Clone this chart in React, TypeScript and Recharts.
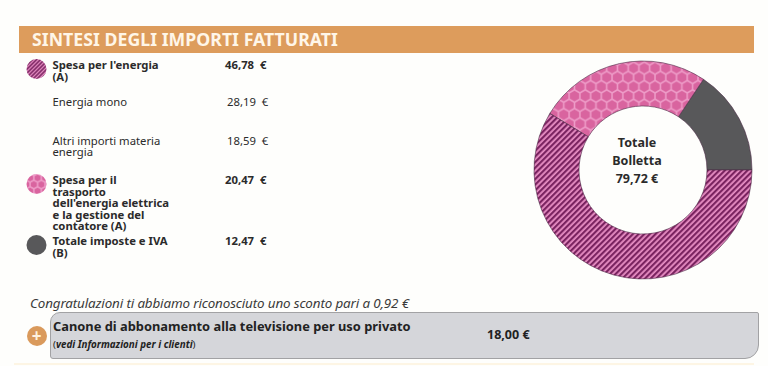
import React from "react";
import { PieChart, Pie, Cell } from "recharts";

const sliceNames = ["Totale imposte e IVA (B)", "Spesa per il trasporto", "Spesa per l'energia (A)"];
const sliceValues = [12.47, 20.47, 46.78];
const sliceFills = ["#58585a", "url(#hex)", "url(#stripes)"];
const chartData = sliceNames.map((name, i) => ({ name, value: sliceValues[i] }));

const FONT = "'Noto Sans', sans-serif";

const rows = [
  { lines: ["Spesa per l'energia", "(A)"], amount: "46,78  €", y: 59, ay: 59, bold: true, marker: "url(#stripesSmall)", my: 69, amountX: 225 },
  { lines: ["Energia mono"], amount: "28,19  €", y: 96, ay: 96, bold: false, amountX: 227 },
  { lines: ["Altri importi materia", "energia"], amount: "18,59  €", y: 135, ay: 135, bold: false, amountX: 227 },
  { lines: ["Spesa per il", "trasporto", "dell'energia elettrica", "e la gestione del", "contatore (A)"], amount: "20,47  €", y: 174, ay: 174, bold: true, marker: "url(#hexSmall)", my: 184, amountX: 225 },
  { lines: ["Totale imposte e IVA", "(B)"], amount: "12,47  €", y: 235, ay: 235, bold: true, marker: "#58585a", my: 245, amountX: 225 },
];

const abs = (left: number, top: number, extra: React.CSSProperties = {}): React.CSSProperties => ({
  position: "absolute", left, top, whiteSpace: "pre", fontFamily: FONT, color: "#2b2b2b", ...extra,
});

function hexPoints(cx: number, cy: number, r: number) {
  const h = r * 0.866;
  return [[cx, cy - r], [cx + h, cy - r / 2], [cx + h, cy + r / 2], [cx, cy + r], [cx - h, cy + r / 2], [cx - h, cy - r / 2]]
    .map((p) => p.join(",")).join(" ");
}

function Patterns({ suffix = "", s = 1 }: { suffix?: string; s?: number }) {
  const r = 6.2 * s;
  const w = r * 1.732;
  const h = r * 3;
  const inner = r - 0.9;
  return (
    <defs>
      <pattern id={"stripes" + suffix} width={4 * s} height={4 * s} patternUnits="userSpaceOnUse" patternTransform="rotate(-45)">
        <rect width={4 * s} height={4 * s} fill="#e88fc4" />
        <rect width={4 * s} height={2.2 * s} fill="#7a2360" />
      </pattern>
      <pattern id={"hex" + suffix} width={w} height={h} patternUnits="userSpaceOnUse">
        <rect width={w} height={h} fill="#ee9cc8" />
        <polygon points={hexPoints(w / 2, r / 2, inner)} fill="#d9649f" />
        <polygon points={hexPoints(0, 2 * r, inner)} fill="#d9649f" />
        <polygon points={hexPoints(w, 2 * r, inner)} fill="#d9649f" />
        <polygon points={hexPoints(w / 2, 3.5 * r, inner)} fill="#d9649f" />
      </pattern>
    </defs>
  );
}

export default function App() {
  return (
    <div style={{ position: "absolute", left: 0, top: 0, width: 768, height: 366, background: "#fefefc", overflow: "hidden" }}>
      <div style={{ position: "absolute", left: 19, top: 26, width: 735, height: 27, background: "#dd9c5c" }} />
      <div style={abs(32, 27, { color: "#fff6e8", fontSize: 17.7, lineHeight: "25px", fontWeight: 700, letterSpacing: 0.02 })}>SINTESI DEGLI IMPORTI FATTURATI</div>

      {rows.map((r) => (
        <React.Fragment key={r.amount}>
          <div style={abs(52.5, r.y, { fontSize: 11.3, lineHeight: r.bold ? "11.5px" : "11px", fontWeight: r.bold ? 700 : 400 })}>
            {r.lines.join("\n")}
          </div>
          <div style={abs(r.amountX, r.ay, { fontSize: 11.3, lineHeight: "12px", fontWeight: r.bold ? 700 : 400 })}>{r.amount}</div>
        </React.Fragment>
      ))}

      <svg width={60} height={300} style={{ position: "absolute", left: 0, top: 0 }}>
        <Patterns suffix="Small" s={0.7} />
        {rows.filter((r) => r.marker).map((r) => (
          <circle key={r.amount} cx={36.5} cy={r.my} r={10} fill={r.marker} />
        ))}
      </svg>

      <div style={{ position: "absolute", left: 0, top: 0 }}>
        <PieChart width={768} height={366} margin={{ top: 0, right: 0, bottom: 0, left: 0 }}>
          <Patterns />
          <Pie
            data={chartData}
            dataKey="value"
            nameKey="name"
            cx={643}
            cy={170}
            innerRadius={64}
            outerRadius={109}
            startAngle={0}
            endAngle={360}
            stroke="#4a2a44"
            strokeWidth={0.6}
            isAnimationActive={false}
          >
            {chartData.map((d, i) => (
              <Cell key={d.name} fill={sliceFills[i]} />
            ))}
          </Pie>
        </PieChart>
      </div>

      <div style={abs(582, 134, { width: 110, textAlign: "center", fontSize: 12.5, lineHeight: "18px", fontWeight: 700 })}>
        {"Totale\nBolletta\n79,72 €"}
      </div>

      <div style={abs(30, 295, { fontSize: 13.4, lineHeight: "16px", fontStyle: "italic", letterSpacing: -0.13, color: "#3a3a3a" })}>
        Congratulazioni ti abbiamo riconosciuto uno sconto pari a 0,92 €
      </div>

      <div style={{ position: "absolute", left: 50, top: 312, width: 709, height: 46.5, boxSizing: "border-box", background: "#d5d6da", border: "1px solid #a2a2a4", borderRadius: "10px 2px 14px 3px" }} />
      <div style={{ position: "absolute", left: 26.5, top: 326, width: 20, height: 20, borderRadius: 10, background: "#da9a5c" }} />
      <div style={abs(26.5, 326, { width: 20, height: 20, textAlign: "center", color: "#fff3e0", fontSize: 17, lineHeight: "20px", fontWeight: 700 })}>+</div>
      <div style={abs(53, 318, { fontSize: 12.85, lineHeight: "16px", fontWeight: 700, color: "#222" })}>Canone di abbonamento alla televisione per uso privato</div>
      <div style={abs(53, 338, { fontSize: 9.8, lineHeight: "13px", color: "#222" })}>
        (<span style={{ fontStyle: "italic", fontWeight: 700 }}>vedi Informazioni per i clienti</span>)
      </div>
      <div style={abs(487, 327, { fontSize: 12.5, lineHeight: "16px", fontWeight: 700, color: "#222" })}>18,00 €</div>
      <div style={{ position: "absolute", left: 14, top: 363, width: 740, height: 2, background: "#fdf5e4" }} />
    </div>
  );
}
